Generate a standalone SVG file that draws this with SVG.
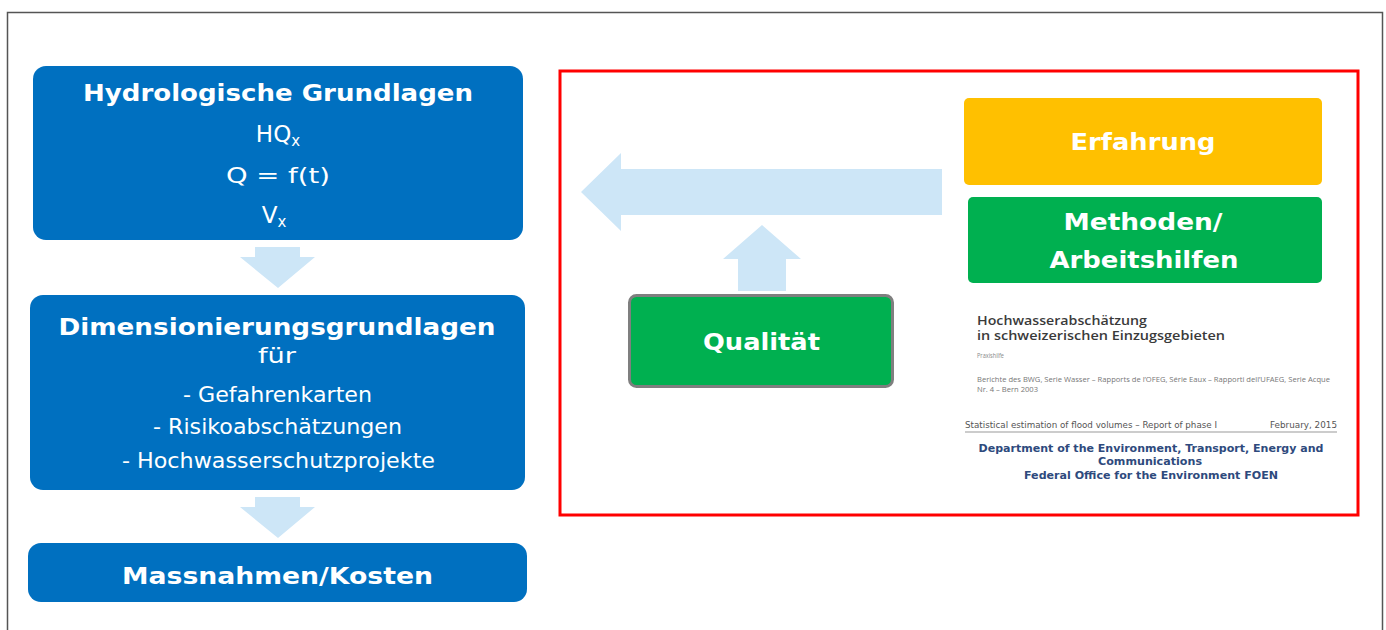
<svg xmlns="http://www.w3.org/2000/svg" width="1386" height="630" viewBox="0 0 1386 630">
<style>
.bx{fill:#0070C0}
.arr{fill:#CDE6F7}
.t{font-family:"DejaVu Sans","Liberation Sans",sans-serif;fill:#FFFFFF;text-anchor:middle}
.b{font-weight:bold}
.doc{font-family:"Open Sans","Noto Sans",sans-serif;fill:#3A3A3A}
.rep{font-family:"DejaVu Sans",sans-serif;fill:#555555}
.dep{font-family:"DejaVu Sans",sans-serif;font-weight:bold;fill:#2E4A7D;text-anchor:middle}
</style>
<rect width="1386" height="630" fill="#FFFFFF"/>
<path d="M7.5,630 V12.5 H1382.5 V630" fill="none" stroke="#555555" stroke-width="1.5"/>
<g id="connectors">
<polygon class="arr" points="255,247 300,247 300,257 315,257 278,288 240,257 255,257"/>
<polygon class="arr" points="255,497 300,497 300,507 315,507 278,538 240,507 255,507"/>
<polygon class="arr" points="942,169 942,215 621,215 621,231 581,192 621,153 621,169"/>
<polygon class="arr" points="738,291 786,291 786,259 801,259 762,225 723,259 738,259"/>
</g>
<g id="hydro">
<rect class="bx" x="33" y="66" width="490" height="174" rx="13"/>
<text class="t b" x="278" y="101" font-size="23" textLength="390" lengthAdjust="spacingAndGlyphs">Hydrologische Grundlagen</text>
<text class="t" x="278" y="142" font-size="23">HQ<tspan font-size="15" dy="4">x</tspan></text>
<text class="t" x="278" y="183" font-size="22" textLength="104" lengthAdjust="spacingAndGlyphs">Q = f(t)</text>
<text class="t" x="274" y="223" font-size="23">V<tspan font-size="15" dy="4">x</tspan></text>
</g>
<g id="dimension">
<rect class="bx" x="30" y="295" width="495" height="195" rx="13"/>
<text class="t b" x="277" y="335" font-size="23" textLength="437" lengthAdjust="spacingAndGlyphs">Dimensionierungsgrundlagen</text>
<text class="t" x="277" y="363" font-size="22" textLength="38" lengthAdjust="spacingAndGlyphs">für</text>
<text class="t" x="277.5" y="402" font-size="21" textLength="189" lengthAdjust="spacingAndGlyphs">- Gefahrenkarten</text>
<text class="t" x="277.5" y="434" font-size="21" textLength="249" lengthAdjust="spacingAndGlyphs">- Risikoabschätzungen</text>
<text class="t" x="278.5" y="468" font-size="21" textLength="313" lengthAdjust="spacingAndGlyphs">- Hochwasserschutzprojekte</text>
</g>
<g id="massnahmen">
<rect class="bx" x="28" y="543" width="499" height="59" rx="13"/>
<text class="t b" x="277.5" y="584" font-size="23" textLength="311" lengthAdjust="spacingAndGlyphs">Massnahmen/Kosten</text>
</g>
<g id="frame">
<rect x="560" y="71" width="798" height="444" fill="none" stroke="#FF0000" stroke-width="3"/>
</g>
<g id="erfahrung">
<rect x="964" y="98" width="358" height="87" rx="5" fill="#FFC000"/>
<text class="t b" x="1143" y="150" font-size="23" textLength="145" lengthAdjust="spacingAndGlyphs">Erfahrung</text>
</g>
<g id="methoden">
<rect x="968" y="197" width="354" height="86" rx="5" fill="#00B050"/>
<text class="t b" x="1143" y="230" font-size="23" textLength="159" lengthAdjust="spacingAndGlyphs">Methoden/</text>
<text class="t b" x="1144" y="268" font-size="23" textLength="189" lengthAdjust="spacingAndGlyphs">Arbeitshilfen</text>
</g>
<g id="qualitaet">
<rect x="629.5" y="295.5" width="263" height="91" rx="7" fill="#00B050" stroke="#7F7F7F" stroke-width="3"/>
<text class="t b" x="761.5" y="350" font-size="23" textLength="117" lengthAdjust="spacingAndGlyphs">Qualität</text>
</g>
<g id="document">
<text class="doc" x="977" y="325" font-size="12.5" font-weight="600" textLength="170" lengthAdjust="spacingAndGlyphs">Hochwasserabschätzung</text>
<text class="doc" x="977" y="340" font-size="12.5" font-weight="600" textLength="248" lengthAdjust="spacingAndGlyphs">in schweizerischen Einzugsgebieten</text>
<text class="doc" x="977" y="358" font-size="7" textLength="27" lengthAdjust="spacingAndGlyphs" style="fill:#888888">Praxishilfe</text>
<text class="doc" x="977" y="382" font-size="7.5" textLength="353" lengthAdjust="spacingAndGlyphs" style="fill:#777777">Berichte des BWG, Serie Wasser – Rapports de l’OFEG, Série Eaux – Rapporti dell’UFAEG, Serie Acque</text>
<text class="doc" x="977" y="392" font-size="7.5" textLength="61" lengthAdjust="spacingAndGlyphs" style="fill:#777777">Nr. 4 – Bern 2003</text>
<text class="rep" x="965" y="428" font-size="8.5" textLength="252" lengthAdjust="spacingAndGlyphs">Statistical estimation of flood volumes – Report of phase I</text>
<text class="rep" x="1337" y="428" font-size="8.5" text-anchor="end" textLength="67" lengthAdjust="spacingAndGlyphs">February, 2015</text>
<line x1="965" y1="432" x2="1337" y2="432" stroke="#999999" stroke-width="1"/>
<text class="dep" x="1151" y="452" font-size="10" textLength="345" lengthAdjust="spacingAndGlyphs">Department of the Environment, Transport, Energy and</text>
<text class="dep" x="1150" y="465" font-size="10" textLength="104" lengthAdjust="spacingAndGlyphs">Communications</text>
<text class="dep" x="1151" y="479" font-size="10" textLength="254" lengthAdjust="spacingAndGlyphs">Federal Office for the Environment FOEN</text>
</g>
</svg>
